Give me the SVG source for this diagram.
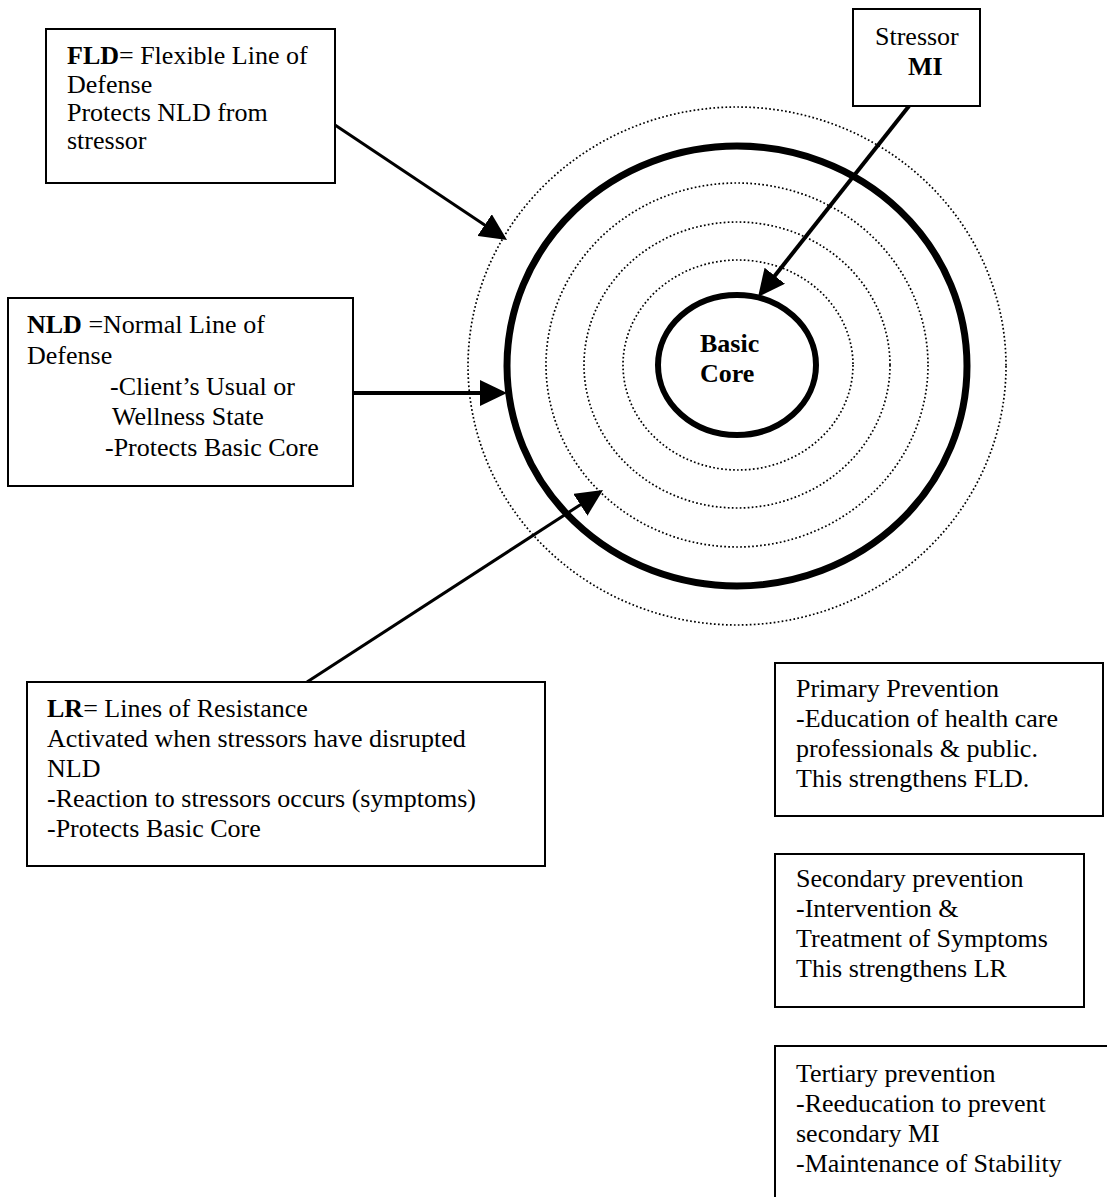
<svg xmlns="http://www.w3.org/2000/svg" width="1107" height="1197" viewBox="0 0 1107 1197">
<defs>
<marker id="ah" markerUnits="userSpaceOnUse" markerWidth="27" markerHeight="26" refX="19" refY="13" orient="auto"><path d="M0,0 L27,13 L0,26 z" fill="#000"/></marker>
<style>
.box{fill:#fff;stroke:#000;stroke-width:2}
.t{font-family:"Liberation Serif","Times New Roman",serif;font-size:26px;fill:#000}
.b{font-weight:bold}
.dot{fill:none;stroke:#000;stroke-width:1.7;stroke-dasharray:1.7 2.3}
.thick{fill:none;stroke:#000;stroke-width:7}
.core{fill:none;stroke:#000;stroke-width:6}
.conn{stroke:#000;stroke-width:3;fill:none;marker-end:url(#ah)}
.w4{stroke-width:4}
</style>
</defs>
<rect width="1107" height="1197" fill="#fff"/>
<g id="rings">
<ellipse class="dot" cx="737" cy="366" rx="269" ry="259"/>
<ellipse class="thick" cx="737" cy="366" rx="230" ry="220"/>
<ellipse class="dot" cx="737" cy="365" rx="191" ry="182"/>
<ellipse class="dot" cx="737" cy="365" rx="153" ry="143"/>
<ellipse class="dot" cx="738" cy="365" rx="115" ry="105"/>
</g>
<g id="basic-core">
<ellipse class="core" cx="737" cy="365" rx="79" ry="70"/>
<text class="t b"><tspan x="700" y="352">Basic</tspan><tspan x="700" y="382">Core</tspan></text>
</g>
<g id="connectors">
<line class="conn" x1="335" y1="125" x2="500.4" y2="235.6"/>
<line class="conn w4" x1="353" y1="393" x2="499" y2="393"/>
<line class="conn" x1="307" y1="682" x2="596.3" y2="494.4"/>
<line class="conn w4" x1="909" y1="106" x2="763" y2="290.7"/>
</g>
<g id="fld">
<rect class="box" x="46" y="29" width="289" height="154"/>
<text class="t"><tspan x="67" y="64"><tspan class="b">FLD</tspan>= Flexible Line of</tspan><tspan x="67" y="92.5">Defense</tspan><tspan x="67" y="120.5">Protects NLD from</tspan><tspan x="67" y="148.5">stressor</tspan></text>
</g>
<g id="stressor">
<rect class="box" x="853" y="9" width="127" height="97"/>
<text class="t"><tspan x="875" y="45">Stressor</tspan><tspan class="b" x="908" y="75">MI</tspan></text>
</g>
<g id="nld">
<rect class="box" x="8" y="298" width="345" height="188"/>
<text class="t"><tspan x="27" y="333"><tspan class="b">NLD</tspan> =Normal Line of</tspan><tspan x="27" y="364">Defense</tspan><tspan x="110" y="395">-Client’s Usual or</tspan><tspan x="112" y="425">Wellness State</tspan><tspan x="105" y="456">-Protects Basic Core</tspan></text>
</g>
<g id="lr">
<rect class="box" x="27" y="682" width="518" height="184"/>
<text class="t"><tspan x="47" y="717"><tspan class="b">LR</tspan>= Lines of Resistance</tspan><tspan x="47" y="747">Activated when stressors have disrupted</tspan><tspan x="47" y="777">NLD</tspan><tspan x="47" y="807">-Reaction to stressors occurs (symptoms)</tspan><tspan x="47" y="837">-Protects Basic Core</tspan></text>
</g>
<g id="primary">
<rect class="box" x="775" y="663" width="328" height="153"/>
<text class="t"><tspan x="796" y="697">Primary Prevention</tspan><tspan x="796" y="727">-Education of health care</tspan><tspan x="796" y="757">professionals &amp; public.</tspan><tspan x="796" y="787">This strengthens FLD.</tspan></text>
</g>
<g id="secondary">
<rect class="box" x="775" y="854" width="309" height="153"/>
<text class="t"><tspan x="796" y="887">Secondary prevention</tspan><tspan x="796" y="917">-Intervention &amp;</tspan><tspan x="796" y="947">Treatment of Symptoms</tspan><tspan x="796" y="977">This strengthens LR</tspan></text>
</g>
<g id="tertiary">
<rect class="box" x="775" y="1046" width="345" height="170"/>
<text class="t"><tspan x="796" y="1082">Tertiary prevention</tspan><tspan x="796" y="1112">-Reeducation to prevent</tspan><tspan x="796" y="1142">secondary MI</tspan><tspan x="796" y="1172">-Maintenance of Stability</tspan></text>
</g>
</svg>
